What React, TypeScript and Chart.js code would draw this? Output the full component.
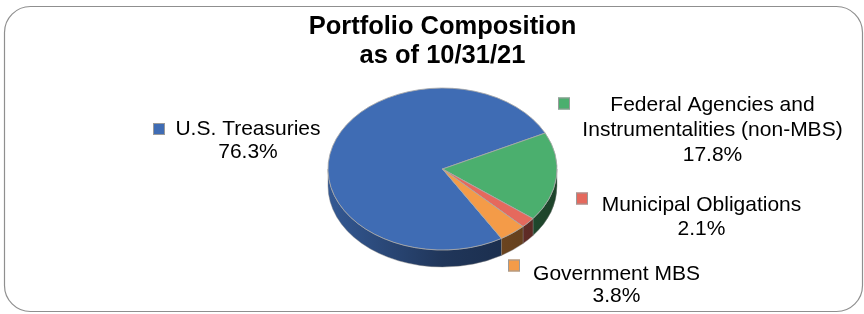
import React, { useEffect, useRef } from 'react';
import { Chart, registerables } from 'chart.js';

Chart.register(...registerables);

// ---- data ----
const categories: (string | string[])[] = [
  'U.S. Treasuries',
  ['Federal Agencies and', 'Instrumentalities (non-MBS)'],
  'Municipal Obligations',
  'Government MBS',
];
const values: number[] = [76.3, 17.8, 2.1, 3.8];
const sliceColors: string[] = ['#3F6CB4', '#4BAF6E', '#E5695D', '#F49B48'];
const titleLines: string[] = ['Portfolio Composition', 'as of 10/31/21'];

// ---- layout ----
const W = 864;
const H = 314;
const PIE_CY = 169; // screen centre of the top face
const SQUASH = 0.7074; // vertical flattening of the pie
const DEPTH = 17; // thickness of the 3D rim
const FONT = '"Liberation Sans", Arial, sans-serif';
const labelLayout = [
  { x: 248, y: 129.7, lh: 23, mx: 153, my: 123 },
  { x: 712.5, y: 105.5, lh: 25, mx: 558, my: 97.5 },
  { x: 701.5, y: 205, lh: 24, mx: 576, my: 192.5 },
  { x: 616.5, y: 274, lh: 22, mx: 508, my: 259.5 },
];

function shade(hex: string, f: number): string {
  const n = parseInt(hex.slice(1), 16);
  const r = Math.round(((n >> 16) & 255) * f);
  const g = Math.round(((n >> 8) & 255) * f);
  const b = Math.round((n & 255) * f);
  return `rgb(${r},${g},${b})`;
}

const framePlugin = {
  id: 'frame',
  beforeDraw(chart: any) {
    const ctx = chart.ctx as CanvasRenderingContext2D;
    ctx.save();
    ctx.fillStyle = '#ffffff';
    ctx.fillRect(0, 0, W, H);
    ctx.beginPath();
    (ctx as any).roundRect(4.5, 6.5, 858, 305, 26);
    ctx.strokeStyle = '#8f8f8f';
    ctx.lineWidth = 1.2;
    ctx.stroke();
    ctx.restore();
  },
};

const pie3dPlugin = {
  id: 'pie3d',
  beforeDatasetsDraw(chart: any) {
    const ctx = chart.ctx as CanvasRenderingContext2D;
    const arcs = chart.getDatasetMeta(0).data as any[];
    ctx.save();
    if (!arcs.length) return;
    const cx = arcs[0].x;
    const cy = arcs[0].y;
    const r = arcs[0].outerRadius;
    const ry = r * SQUASH;
    const TWO_PI = Math.PI * 2;
    arcs.forEach((arc, i) => {
      const s = arc.startAngle;
      const e = arc.endAngle;
      for (let n = -1; n <= 2; n++) {
        const a = Math.max(s, n * TWO_PI);
        const b = Math.min(e, n * TWO_PI + Math.PI);
        if (b <= a) continue;
        ctx.beginPath();
        ctx.ellipse(cx, PIE_CY, r, ry, 0, a, b);
        ctx.ellipse(cx, PIE_CY + DEPTH, r, ry, 0, b, a, true);
        ctx.closePath();
        const g = ctx.createLinearGradient(cx - r, 0, cx + r, 0);
        const c = sliceColors[i];
        g.addColorStop(0, shade(c, 0.82));
        g.addColorStop(0.5, shade(c, 0.5));
        g.addColorStop(1, shade(c, 0.38));
        ctx.fillStyle = g;
        ctx.fill();
        ctx.strokeStyle = 'rgba(130,130,130,0.55)';
        ctx.lineWidth = 0.8;
        ctx.stroke();
      }
    });
    // flatten the top face drawn by Chart.js
    ctx.translate(0, PIE_CY);
    ctx.scale(1, SQUASH);
    ctx.translate(0, -cy);
  },
  afterDatasetsDraw(chart: any) {
    chart.ctx.restore();
  },
};

const labelPlugin = {
  id: 'sliceLabels',
  afterDraw(chart: any) {
    const ctx = chart.ctx as CanvasRenderingContext2D;
    ctx.save();
    ctx.font = `21px ${FONT}`;
    ctx.textAlign = 'center';
    ctx.textBaseline = 'middle';
    categories.forEach((cat, i) => {
      const L = labelLayout[i];
      const lines = [...(Array.isArray(cat) ? cat : [cat]), values[i].toFixed(1) + '%'];
      ctx.fillStyle = '#000000';
      lines.forEach((t, j) => ctx.fillText(t, L.x, L.y + j * L.lh));
      ctx.fillStyle = sliceColors[i];
      ctx.fillRect(L.mx, L.my, 12, 12);
      ctx.strokeStyle = '#9a9a9a';
      ctx.lineWidth = 1;
      ctx.strokeRect(L.mx + 0.5, L.my + 0.5, 11, 11);
    });
    ctx.restore();
  },
};

export default function App() {
  const ref = useRef<HTMLCanvasElement | null>(null);
  useEffect(() => {
    if (!ref.current) return;
    const chart = new Chart(ref.current, {
      type: 'pie',
      data: {
        labels: categories as any,
        datasets: [
          {
            data: values,
            backgroundColor: sliceColors,
            borderColor: '#a8a8a8',
            borderWidth: 1,
            clip: false as any,
          },
        ],
      },
      options: {
        responsive: false,
        maintainAspectRatio: false,
        animation: false,
        rotation: 149,
        layout: { padding: { top: 0, bottom: 13.2, left: 190, right: 169 } },
        plugins: {
          legend: { display: false },
          tooltip: { enabled: false },
          title: {
            display: true,
            text: titleLines,
            color: '#000000',
            font: { family: FONT, size: 25.5, weight: 'bold', lineHeight: 29 / 25.5 },
            padding: { top: 12.8, bottom: 0 },
          },
        },
      },
      plugins: [framePlugin, pie3dPlugin, labelPlugin],
    });
    return () => chart.destroy();
  }, []);
  return (
    <div style={{ position: 'absolute', left: 0, top: 0, width: W, height: H }}>
      <canvas ref={ref} width={W} height={H} style={{ width: W, height: H, display: 'block' }} />
    </div>
  );
}
